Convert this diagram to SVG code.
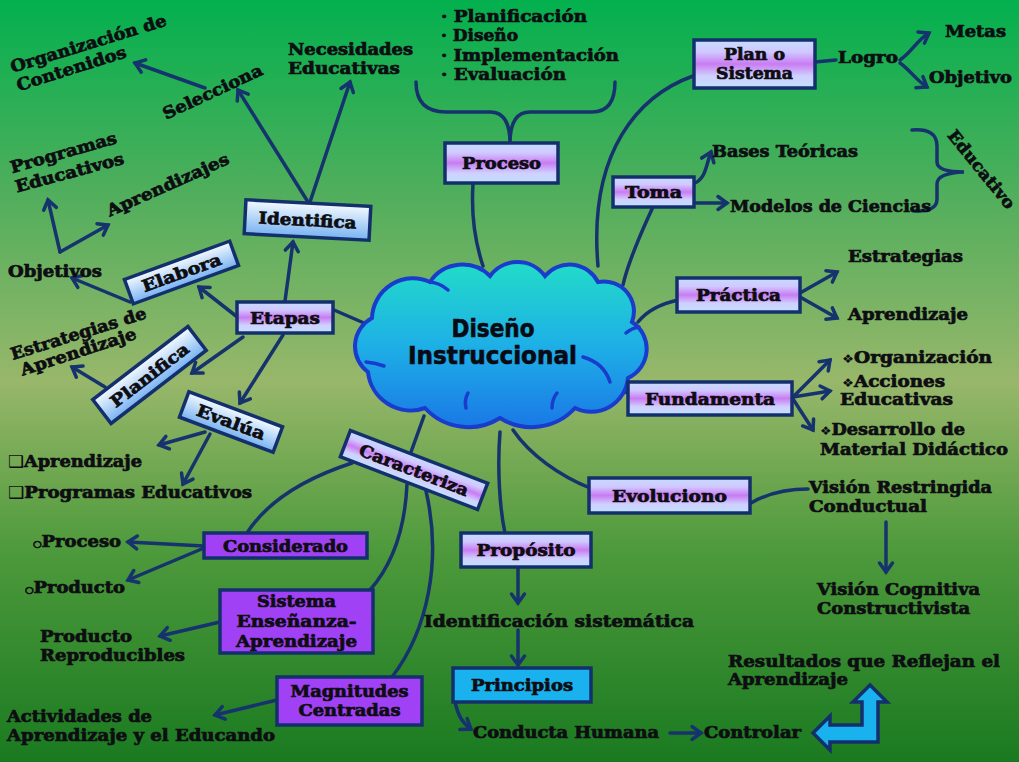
<svg xmlns="http://www.w3.org/2000/svg" width="1019" height="762" viewBox="0 0 1019 762">
<defs>
<linearGradient id="bg" x1="0" y1="0" x2="0" y2="1">
<stop offset="0" stop-color="#03b04e"/>
<stop offset="0.25" stop-color="#4fae5c"/>
<stop offset="0.5" stop-color="#98b76a"/>
<stop offset="0.72" stop-color="#4e9a3c"/>
<stop offset="1" stop-color="#1a7a20"/>
</linearGradient>
<linearGradient id="gPurple" x1="0" y1="0" x2="0" y2="1">
<stop offset="0" stop-color="#c6dcff"/>
<stop offset="0.25" stop-color="#d0c8ff"/>
<stop offset="0.5" stop-color="#c97cf2"/>
<stop offset="0.75" stop-color="#cfd0ff"/>
<stop offset="1" stop-color="#c2e0ff"/>
</linearGradient>
<linearGradient id="gBlue" x1="0" y1="0" x2="0" y2="1">
<stop offset="0" stop-color="#f4faff"/>
<stop offset="1" stop-color="#78b2f2"/>
</linearGradient>
<linearGradient id="gCloud" x1="0" y1="0" x2="0" y2="1">
<stop offset="0" stop-color="#22dcc8"/>
<stop offset="0.5" stop-color="#1eb0e6"/>
<stop offset="1" stop-color="#1a78e6"/>
</linearGradient>
<marker id="ah" markerUnits="userSpaceOnUse" markerWidth="16" markerHeight="16" refX="12" refY="8" orient="auto" overflow="visible">
<path d="M3,1.5 L12,8 L3,14.5" fill="none" stroke="#16336e" stroke-width="3.5" stroke-linecap="round"/>
</marker>
<style>
.c{fill:none;stroke:#16336e;stroke-width:3.5;stroke-linecap:round}
.a{marker-end:url(#ah)}
.bp{fill:url(#gPurple);stroke:#14306c;stroke-width:3.5}
.bb{fill:url(#gBlue);stroke:#14306c;stroke-width:3.5}
.bv{fill:#a141f6;stroke:#14306c;stroke-width:3.5}
.bc{fill:#1ab2ee;stroke:#14306c;stroke-width:3.5}
text{font-family:"DejaVu Serif","Liberation Serif","DejaVu Sans",serif;font-weight:bold;font-size:16.5px;fill:#0d0d12;stroke:#0d0d12;stroke-width:0.7px;paint-order:stroke}
.m{text-anchor:middle}
.sym{stroke-width:0;font-weight:normal;font-family:"DejaVu Sans",sans-serif}
.cl{fill:url(#gCloud);stroke:#1a3ccc;stroke-width:4}
.ci{fill:none;stroke:#1a3ccc;stroke-width:3.5;stroke-linecap:round}
.ct{font-family:"DejaVu Sans","Liberation Sans",sans-serif;font-size:24px;fill:#0a0a14;stroke:#0a0a14;stroke-width:0.6px}
</style>
</defs>
<rect x="0" y="0" width="1019" height="762" fill="url(#bg)"/>

<g id="connectors">
<path class="c" d="M473,184 C471,215 476,245 483,266"/>
<path class="c" d="M693,76 C640,95 588,150 598,266"/>
<path class="c" d="M652,209 C640,235 628,262 623,285"/>
<path class="c" d="M334,310 L364,323"/>
<path class="c" d="M678,300 C660,304 646,312 638,322"/>
<path class="c" d="M628,392 L604,395"/>
<path class="c" d="M513,430 C530,455 560,476 590,488"/>
<path class="c" d="M500,432 C497,470 500,510 505,533"/>
<path class="c" d="M424,416 L411,452"/>
<path class="c" d="M352,463 C300,480 265,505 247,533"/>
<path class="c" d="M407,484 C405,530 392,565 370,590"/>
<path class="c" d="M426,491 C442,560 428,630 392,677"/>
<path class="c" d="M751,503 C770,492 790,489 808,489"/>
<path class="c" d="M815,62 L836,60"/>
<path class="c" d="M416,82 C416,102 426,112 446,112 L490,112 C503,112 510,122 510,143 C510,122 517,112 530,112 L592,112 C607,112 615,102 615,82"/>
<path class="c" d="M912,130 Q937,128 937,146 L937,162 Q937,172 964,172 Q937,173 937,184 L937,199 Q937,212 914,211"/>
<path class="c a" d="M900,60 C912,52 917,40 929,33"/>
<path class="c a" d="M900,63 C910,70 916,80 927,87"/>
<path class="c a" d="M695,183 C706,178 706,165 711,152"/>
<path class="c a" d="M695,203 L727,203"/>
<path class="c a" d="M800,293 L837,272"/>
<path class="c a" d="M800,297 L837,318"/>
<path class="c a" d="M793,397 L830,360"/>
<path class="c a" d="M793,397 L830,391"/>
<path class="c a" d="M793,399 L813,430"/>
<path class="c a" d="M886,522 L886,572"/>
<path class="c a" d="M518,567 L518,603"/>
<path class="c a" d="M518,630 L518,665"/>
<path class="c a" d="M455,702 C458,715 462,723 471,729"/>
<path class="c a" d="M670,733 L701,733"/>
<path class="c a" d="M204,546 L128,542"/>
<path class="c a" d="M204,548 L128,580"/>
<path class="c a" d="M220,622 L160,636"/>
<path class="c a" d="M277,700 L215,715"/>
<path class="c a" d="M205,432 L159,445"/>
<path class="c a" d="M210,434 L183,484"/>
<path class="c a" d="M285,301 L293,242"/>
<path class="c a" d="M236,316 L199,287"/>
<path class="c a" d="M243,337 L192,373"/>
<path class="c a" d="M283,335 L240,403"/>
<path class="c a" d="M130,302 L72,278"/>
<path class="c a" d="M105,387 L72,367"/>
<path class="c a" d="M308,202 L238,90"/>
<path class="c a" d="M310,202 L350,82"/>
<path class="c a" d="M205,88 L135,63"/>
<path class="c a" d="M60,252 L48,200"/>
<path class="c a" d="M60,252 L108,225"/>
</g>

<g id="nube">
<path class="cl" d="M368,372 A32,32 0 0 1 372,318 A41,41 0 0 1 430,282 A39,39 0 0 1 490,276 A34,34 0 0 1 545,276 A32,32 0 0 1 598,282 A30,30 0 0 1 632,322 A32,32 0 0 1 628,378 A37,37 0 0 1 575,408 A59,59 0 0 1 500,418 A59,59 0 0 1 425,408 A43,43 0 0 1 368,372 Z"/>
<path class="ci" d="M583,357 Q604,363 610,382"/>
<path class="ci" d="M626,333 Q632,328 639,327"/>
<path class="ci" d="M366,362 Q376,363 384,366"/>
<path class="ci" d="M466,408 Q464,400 468,393"/>
<path class="ci" d="M552,408 Q552,399 557,393"/>
<path class="ci" d="M430,282 Q440,283 448,290"/>
<text class="ct m" x="493" y="337" textLength="83" lengthAdjust="spacingAndGlyphs">Diseño</text>
<text class="ct m" x="492.5" y="364" textLength="169" lengthAdjust="spacingAndGlyphs">Instruccional</text>
</g>

<g id="lista-proceso">
<text x="441" y="22" textLength="146" lengthAdjust="spacingAndGlyphs">· Planificación</text>
<text x="441" y="41" textLength="77" lengthAdjust="spacingAndGlyphs">· Diseño</text>
<text x="441" y="61" textLength="178" lengthAdjust="spacingAndGlyphs">· Implementación</text>
<text x="441" y="80" textLength="125" lengthAdjust="spacingAndGlyphs">· Evaluación</text>
</g>
<g id="proceso"><rect class="bp" x="445" y="143" width="113" height="40"/><text class="m" x="501.5" y="169" textLength="79" lengthAdjust="spacingAndGlyphs">Proceso</text></g>
<g id="plan"><rect class="bp" x="694" y="40" width="121" height="48"/><text class="m" x="754.5" y="60" textLength="61" lengthAdjust="spacingAndGlyphs">Plan o</text><text class="m" x="754.5" y="79" textLength="77" lengthAdjust="spacingAndGlyphs">Sistema</text></g>
<g id="logro"><text x="838" y="63" textLength="60" lengthAdjust="spacingAndGlyphs">Logro</text></g>
<g id="metas"><text x="945" y="37" textLength="61" lengthAdjust="spacingAndGlyphs">Metas</text></g>
<g id="objetivo"><text x="929" y="83" textLength="83" lengthAdjust="spacingAndGlyphs">Objetivo</text></g>
<g id="toma"><rect class="bp" x="613" y="177" width="81" height="30"/><text class="m" x="653.5" y="198" textLength="57" lengthAdjust="spacingAndGlyphs">Toma</text></g>
<g id="bases"><text x="712" y="157" textLength="146" lengthAdjust="spacingAndGlyphs">Bases Teóricas</text></g>
<g id="modelos"><text x="730" y="212" textLength="201" lengthAdjust="spacingAndGlyphs">Modelos de Ciencias</text></g>
<g id="educativo"><text class="m" transform="translate(977,173) rotate(51)" textLength="96" lengthAdjust="spacingAndGlyphs">Educativo</text></g>
<g id="practica"><rect class="bp" x="677" y="278" width="123" height="34"/><text class="m" x="738.5" y="301" textLength="85" lengthAdjust="spacingAndGlyphs">Práctica</text></g>
<g id="estrategias"><text x="848" y="262" textLength="115" lengthAdjust="spacingAndGlyphs">Estrategias</text></g>
<g id="aprendizaje-p"><text x="848" y="320" textLength="120" lengthAdjust="spacingAndGlyphs">Aprendizaje</text></g>
<g id="fundamenta"><rect class="bp" x="628" y="382" width="164" height="33"/><text class="m" x="710" y="404.5" textLength="130" lengthAdjust="spacingAndGlyphs">Fundamenta</text></g>
<g id="organizacion-f"><text x="842" y="363" textLength="150" lengthAdjust="spacingAndGlyphs"><tspan class="sym" font-size="12">❖</tspan>Organización</text></g>
<g id="acciones"><text x="842" y="387" textLength="103" lengthAdjust="spacingAndGlyphs"><tspan class="sym" font-size="12">❖</tspan>Acciones</text><text x="840" y="405" textLength="113" lengthAdjust="spacingAndGlyphs">Educativas</text></g>
<g id="desarrollo"><text x="820" y="435" textLength="145" lengthAdjust="spacingAndGlyphs"><tspan class="sym" font-size="12">❖</tspan>Desarrollo de</text><text x="820" y="455" textLength="188" lengthAdjust="spacingAndGlyphs">Material Didáctico</text></g>
<g id="evoluciono"><rect class="bp" x="589" y="478" width="161" height="35"/><text class="m" x="669.5" y="501.5" textLength="115" lengthAdjust="spacingAndGlyphs">Evoluciono</text></g>
<g id="vision-r"><text x="809" y="493" textLength="183" lengthAdjust="spacingAndGlyphs">Visión Restringida</text><text x="809" y="512" textLength="118" lengthAdjust="spacingAndGlyphs">Conductual</text></g>
<g id="vision-c"><text x="817" y="595" textLength="163" lengthAdjust="spacingAndGlyphs">Visión Cognitiva</text><text x="817" y="614" textLength="153" lengthAdjust="spacingAndGlyphs">Constructivista</text></g>
<g id="proposito"><rect class="bp" x="461" y="533" width="130" height="34"/><text class="m" x="526" y="556" textLength="99" lengthAdjust="spacingAndGlyphs">Propósito</text></g>
<g id="identificacion"><text x="424" y="627" textLength="270" lengthAdjust="spacingAndGlyphs">Identificación sistemática</text></g>
<g id="principios"><rect class="bc" x="453" y="668" width="138" height="34"/><text class="m" x="522" y="691" textLength="102" lengthAdjust="spacingAndGlyphs">Principios</text></g>
<g id="conducta"><text x="473" y="738" textLength="186" lengthAdjust="spacingAndGlyphs">Conducta Humana</text></g>
<g id="controlar"><text x="704" y="738" textLength="97" lengthAdjust="spacingAndGlyphs">Controlar</text></g>
<g id="resultados"><text x="728" y="667" textLength="272" lengthAdjust="spacingAndGlyphs">Resultados  que Reflejan el</text><text x="728" y="685" textLength="120" lengthAdjust="spacingAndGlyphs">Aprendizaje</text></g>
<g id="flecha-l"><polygon class="bc" stroke-width="2.5" points="813,733 830,716 830,725 862,725 862,702 853,702 870,685 887,702 878,702 878,742 830,742 830,750"/></g>

<g id="caracteriza" transform="translate(414,470) rotate(21)"><rect class="bp" x="-73.5" y="-14" width="147" height="28"/><text class="m" x="0" y="6" textLength="116" lengthAdjust="spacingAndGlyphs">Caracteriza</text></g>
<g id="considerado"><rect class="bv" x="204" y="533" width="163" height="25"/><text class="m" x="285.5" y="551.5" textLength="125" lengthAdjust="spacingAndGlyphs">Considerado</text></g>
<g id="proceso-o"><text x="33" y="547" textLength="88" lengthAdjust="spacingAndGlyphs"><tspan font-size="9">○</tspan>Proceso</text></g>
<g id="producto-o"><text x="25" y="593" textLength="100" lengthAdjust="spacingAndGlyphs"><tspan font-size="9">○</tspan>Producto</text></g>
<g id="sistema-ea"><rect class="bv" x="220" y="590" width="153" height="63"/><text class="m" x="296.5" y="607" textLength="79" lengthAdjust="spacingAndGlyphs">Sistema</text><text class="m" x="296.5" y="627" textLength="120" lengthAdjust="spacingAndGlyphs">Enseñanza-</text><text class="m" x="296.5" y="647" textLength="121" lengthAdjust="spacingAndGlyphs">Aprendizaje</text></g>
<g id="producto-r"><text x="40" y="642" textLength="92" lengthAdjust="spacingAndGlyphs">Producto</text><text x="40" y="661" textLength="145" lengthAdjust="spacingAndGlyphs">Reproducibles</text></g>
<g id="magnitudes"><rect class="bv" x="277" y="677" width="145" height="48"/><text class="m" x="349.5" y="697" textLength="118" lengthAdjust="spacingAndGlyphs">Magnitudes</text><text class="m" x="349.5" y="716" textLength="102" lengthAdjust="spacingAndGlyphs">Centradas</text></g>
<g id="actividades"><text x="7" y="722" textLength="145" lengthAdjust="spacingAndGlyphs">Actividades de</text><text x="7" y="741" textLength="268" lengthAdjust="spacingAndGlyphs">Aprendizaje y el Educando</text></g>

<g id="etapas"><rect class="bp" x="237" y="302" width="96" height="31"/><text class="m" x="285" y="323.5" textLength="70" lengthAdjust="spacingAndGlyphs">Etapas</text></g>
<g id="identifica" transform="translate(307.5,220) rotate(3)"><rect class="bb" x="-62.5" y="-17" width="125" height="34"/><text class="m" x="0" y="6" textLength="98" lengthAdjust="spacingAndGlyphs">Identifica</text></g>
<g id="elabora" transform="translate(181.5,272.5) rotate(-20)"><rect class="bb" x="-56" y="-13" width="112" height="26"/><text class="m" x="0" y="6" textLength="83" lengthAdjust="spacingAndGlyphs">Elabora</text></g>
<g id="planifica" transform="translate(149.5,375) rotate(-37.5)"><rect class="bb" x="-60" y="-15" width="120" height="30"/><text class="m" x="0" y="6" textLength="94" lengthAdjust="spacingAndGlyphs">Planifica</text></g>
<g id="evalua" transform="translate(231,422) rotate(20.5)"><rect class="bb" x="-50" y="-13.5" width="100" height="27"/><text class="m" x="0" y="6" textLength="72" lengthAdjust="spacingAndGlyphs">Evalúa</text></g>

<g id="necesidades"><text x="288" y="55" textLength="125" lengthAdjust="spacingAndGlyphs">Necesidades</text><text x="288" y="74" textLength="112" lengthAdjust="spacingAndGlyphs">Educativas</text></g>
<g id="selecciona"><text class="m" transform="translate(215,97) rotate(-25)" textLength="108" lengthAdjust="spacingAndGlyphs">Selecciona</text></g>
<g id="organizacion"><text class="m" transform="translate(90,49) rotate(-17)" textLength="162" lengthAdjust="spacingAndGlyphs">Organización de</text><text class="m" transform="translate(73,74) rotate(-17.5)" textLength="114" lengthAdjust="spacingAndGlyphs">Contenidos</text></g>
<g id="programas"><text class="m" transform="translate(65,158) rotate(-16)" textLength="110" lengthAdjust="spacingAndGlyphs">Programas</text><text class="m" transform="translate(71,178) rotate(-15)" textLength="112" lengthAdjust="spacingAndGlyphs">Educativos</text></g>
<g id="aprendizajes"><text class="m" transform="translate(170,190) rotate(-24)" textLength="132" lengthAdjust="spacingAndGlyphs">Aprendizajes</text></g>
<g id="objetivos"><text x="8" y="277" textLength="94" lengthAdjust="spacingAndGlyphs">Objetivos</text></g>
<g id="estrategias-a"><text class="m" transform="translate(80,339) rotate(-17.3)" textLength="141" lengthAdjust="spacingAndGlyphs">Estrategias de</text><text class="m" transform="translate(80,357) rotate(-18)" textLength="121" lengthAdjust="spacingAndGlyphs">Aprendizaje</text></g>
<g id="evalua-items"><text x="8" y="467" textLength="134" lengthAdjust="spacingAndGlyphs"><tspan class="sym">❑</tspan>Aprendizaje</text><text x="8" y="498" textLength="244" lengthAdjust="spacingAndGlyphs"><tspan class="sym">❑</tspan>Programas Educativos</text></g>
</svg>
